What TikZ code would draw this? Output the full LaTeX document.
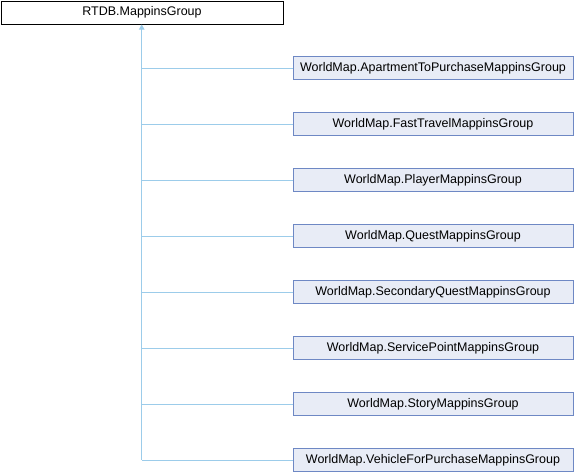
\documentclass[tikz,border=0pt]{standalone}
\usepackage{fontspec}
\setmainfont{Liberation Sans}
\usetikzlibrary{arrows.meta}
\definecolor{boxfill}{HTML}{E8ECF6}
\definecolor{boxline}{HTML}{6E88C4}
\definecolor{edgecol}{HTML}{9CCCEA}
\begin{document}
\begin{tikzpicture}[x=1pt,y=-1pt,
  base/.style={rectangle,draw,line width=1pt,inner sep=0pt,anchor=north west,
    font=\fontsize{12.5}{14}\selectfont},
  parentbox/.style={base,draw=black,fill=white,minimum width=282,minimum height=23},
  childbox/.style={base,draw=boxline,fill=boxfill,minimum width=280,minimum height=23},
  edge/.style={draw=edgecol,line width=0.9pt}]
\useasboundingbox (0,0) rectangle (574,472);
\node[parentbox] (p) at (0.5,0.5) {RTDB.MappinsGroup};
\foreach \i/\t in {1/ApartmentToPurchaseMappinsGroup,2/FastTravelMappinsGroup,3/PlayerMappinsGroup,4/QuestMappinsGroup,5/SecondaryQuestMappinsGroup,6/ServicePointMappinsGroup,7/StoryMappinsGroup,8/VehicleForPurchaseMappinsGroup}{
  \node[childbox] (c\i) at (292.5,{56+56*(\i-1)}) {WorldMap.\t};
  \coordinate (j\i) at (141.7,0 |- c\i.west);
  \draw[edge] (c\i.west) -- (j\i);
}
\draw[edge,-{Triangle[length=5pt,width=5.5pt,fill=edgecol]}] (j8) -- (141.7,0 |- p.south);
\end{tikzpicture}
\end{document}
